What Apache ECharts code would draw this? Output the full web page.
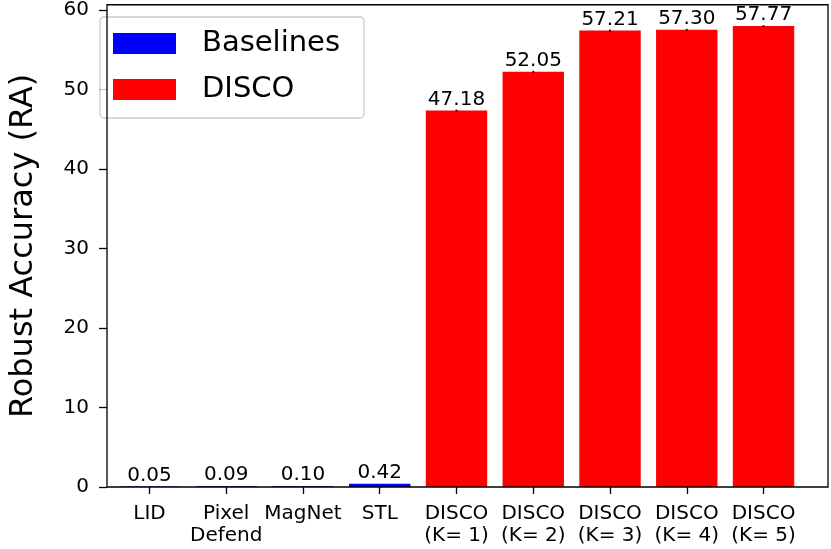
<!DOCTYPE html>
<html><head><meta charset="utf-8">
<script src="https://cdn.jsdelivr.net/npm/echarts@6/dist/echarts.min.js"></script>
<style>html,body{margin:0;padding:0;background:#fff}#c{width:831px;height:549px}</style>
</head><body><div id="c"></div>
<script>
const categories = ['LID', 'Pixel\nDefend', 'MagNet', 'STL', 'DISCO\n(K= 1)', 'DISCO\n(K= 2)', 'DISCO\n(K= 3)', 'DISCO\n(K= 4)', 'DISCO\n(K= 5)'];
const baselineValues = [0.05, 0.09, 0.10, 0.42];
const discoValues = [47.18, 52.05, 57.21, 57.30, 57.77];
const yTicks = [0, 10, 20, 30, 40, 50, 60];

const FONT = 'DejaVu Sans';
const L = 85, R = 828, T = 3, B = 487;
const xmin = -0.84, xmax = 8.84;
const pxPerUnit = (R - L) / (xmax - xmin);
const ymax = 57.77 * 1.05;

const nB = baselineValues.length;
const baseData = categories.map((c, i) => i < nB ? baselineValues[i] : '-');
const discoData = categories.map((c, i) => i >= nB ? discoValues[i - nB] : '-');
const catLeft = L + (0 - xmin) * pxPerUnit - pxPerUnit / 2;
const catWidth = categories.length * pxPerUnit;

const labelCfg = {
  show: true, position: 'top', distance: 1, color: '#000',
  fontFamily: FONT, fontSize: 20,
  formatter: p => Number(p.value).toFixed(2)
};

const chart = echarts.init(document.getElementById('c'), null, {renderer: 'canvas'});
chart.setOption({
  animation: false,
  backgroundColor: '#fff',
  textStyle: {fontFamily: FONT},
  grid: [
    {left: L, right: 831 - R, top: T, bottom: 549 - B, show: true, z: 10, borderColor: '#000', borderWidth: 1.3, backgroundColor: 'transparent'},
    {left: catLeft, width: catWidth, top: T, bottom: 549 - B}
  ],
  legend: {
    left: 100, top: 17, orient: 'vertical',
    data: ['Baselines', 'DISCO'],
    itemWidth: 63, itemHeight: 21, itemGap: 17,
    padding: [12, 24, 14, 13],
    borderColor: '#cccccc', borderWidth: 1.3, borderRadius: 4,
    backgroundColor: 'rgba(255,255,255,0.8)',
    textStyle: {fontFamily: FONT, fontSize: 29, color: '#000', padding: [0, 0, 0, 21]},
    icon: 'rect'
  },
  xAxis: [
    {gridIndex: 0, type: 'value', min: xmin, max: xmax, axisLine: {show: false, onZero: false}, axisTick: {show: false}, axisLabel: {show: false}, splitLine: {show: false}},
    {gridIndex: 1, type: 'category', data: categories, axisLine: {show: false, onZero: false},
      axisTick: {show: true, alignWithLabel: true, length: 7, lineStyle: {color: '#000', width: 1.3}},
      axisLabel: {color: '#000', fontFamily: FONT, fontSize: 20, margin: 16, lineHeight: 22, interval: 0}}
  ],
  yAxis: [
    {gridIndex: 0, type: 'value', min: 0, max: ymax, interval: 10, position: 'left',
      axisLine: {show: false, onZero: false},
      axisTick: {show: true, length: 8, lineStyle: {color: '#000', width: 1.3}},
      axisLabel: {color: '#000', fontFamily: FONT, fontSize: 20, margin: 18, showMaxLabel: false,
        formatter: v => yTicks.includes(v) ? String(v) : ''},
      splitLine: {show: false},
      name: 'Robust Accuracy (RA)', nameLocation: 'middle', nameRotate: 90, nameGap: 67,
      nameTextStyle: {color: '#000', fontFamily: FONT, fontSize: 32}},
    {gridIndex: 1, type: 'value', show: false, min: 0, max: ymax}
  ],
  series: [
    {name: 'Baselines', type: 'bar', xAxisIndex: 1, yAxisIndex: 1, data: baseData, stack: 'all',
      barWidth: 0.8 * pxPerUnit, itemStyle: {color: '#0000ff'}, label: labelCfg},
    {name: 'DISCO', type: 'bar', xAxisIndex: 1, yAxisIndex: 1, data: discoData, stack: 'all',
      barWidth: 0.8 * pxPerUnit, itemStyle: {color: '#ff0000'}, label: labelCfg},
    {name: 'err', type: 'scatter', xAxisIndex: 1, yAxisIndex: 1, data: discoData,
      symbol: 'rect', symbolSize: [2, 2], itemStyle: {color: '#000'}, z: 5, silent: true}
  ]
});
</script></body></html>
